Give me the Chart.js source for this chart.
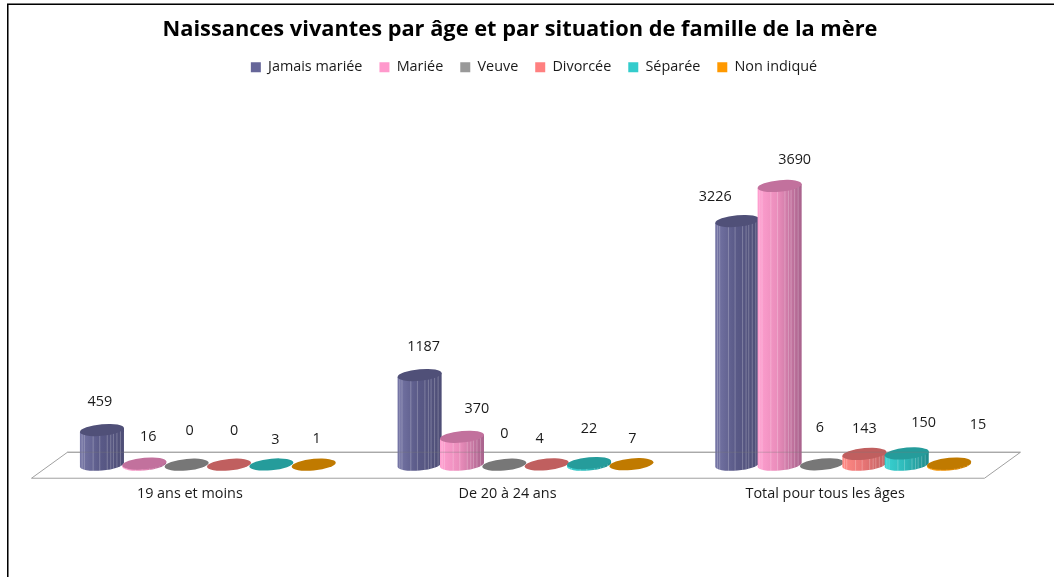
<!DOCTYPE html>
<html><head><meta charset="utf-8">
<style>html,body{margin:0;padding:0;background:#fff}#w{position:relative;width:1054px;height:577px}</style>
<script src="https://cdn.jsdelivr.net/npm/chart.js@4/dist/chart.umd.min.js"></script>
</head><body><div id="w"><canvas id="c" width="1054" height="577"></canvas></div>
<script>
const categories = ["19 ans et moins", "De 20 à 24 ans", "Total pour tous les âges"];
const jamaisMariee = [459, 1187, 3226];
const mariee = [16, 370, 3690];
const veuve = [0, 0, 6];
const divorcee = [0, 4, 143];
const separee = [3, 22, 150];
const nonIndique = [1, 7, 15];
const seriesNames = ["Jamais mariée", "Mariée", "Veuve", "Divorcée", "Séparée", "Non indiqué"];
const chartTitle = "Naissances vivantes par âge et par situation de famille de la mère";

const FONT = '"Open Sans"';
const looks = [
  {fill:"#666699", light:"#7676a6", mid:"#5a5a88", dark:"#4e4e76", top:"#505078"},
  {fill:"#FF99CC", light:"#ff9fd0", mid:"#ea8dbb", dark:"#a8628c", top:"#c2719d"},
  {fill:"#999999", light:"#a0a0a0", mid:"#8c8c8c", dark:"#707070", top:"#777777"},
  {fill:"#FF8080", light:"#ff8a84", mid:"#ea7676", dark:"#bf6060", top:"#c05f5f"},
  {fill:"#33CCCC", light:"#38d2d2", mid:"#2fbaba", dark:"#1f8a8a", top:"#259c9b"},
  {fill:"#FF9900", light:"#ffa010", mid:"#ea8c00", dark:"#c07a00", top:"#c07a00"}
];
// label nudges from the top of each cylinder [dataset][category] = [dx, dy]
const labelNudge = [
  [[-2,-28],[4,-28],[-22,-24]],
  [[4,-27],[15,-28],[15,-26]],
  [[3,-34],[0,-31],[-2,-36]],
  [[5,-34],[-7,-26],[0,-25]],
  [[4,-25],[0,-34],[17,-30]],
  [[3,-26],[1,-25],[29,-39]]
];
const DEPTH_X = 36, DEPTH_Y = -26, TILT = -0.09, RY = 5.8;
const stripes = [.05,.1,.3,.45,.62,.7,.76,.84,.92];

function cylinder(ctx, cx, topY, baseY, w, look){
  const rx = w/2;
  ctx.save();
  ctx.transform(1, TILT, 0, 1, cx, 0);
  const h = baseY - topY;
  if (h > 0.6) {
    ctx.save();
    ctx.beginPath();
    ctx.moveTo(-rx, topY);
    ctx.lineTo(-rx, baseY);
    ctx.ellipse(0, baseY, rx, RY, 0, Math.PI, 0, true);
    ctx.lineTo(rx, topY);
    ctx.closePath();
    const g = ctx.createLinearGradient(-rx,0,rx,0);
    g.addColorStop(0, look.light);
    g.addColorStop(.45, look.mid);
    g.addColorStop(1, look.dark);
    ctx.fillStyle = g; ctx.fill(); ctx.clip();
    ctx.strokeStyle = "rgba(255,255,255,.24)"; ctx.lineWidth = 1;
    stripes.forEach(s=>{ const x=-rx+2*rx*s; ctx.beginPath(); ctx.moveTo(x,topY); ctx.lineTo(x,baseY+RY+1); ctx.stroke(); });
    ctx.restore();
  }
  ctx.beginPath();
  ctx.ellipse(0, topY, rx, RY, 0, 0, Math.PI*2);
  ctx.fillStyle = look.top; ctx.fill();
  ctx.restore();
}

const cylinders = {
  id:"cylinders",
  beforeInit(chart){
    const fit = chart.legend.fit;
    chart.legend.fit = function(){ fit.call(this); this.height += 91; };
  },
  afterLayout(chart){
    chart.titleBlock.left += 12.5; chart.titleBlock.right += 12.5;
    chart.legend.left += 26.5; chart.legend.right += 26.5;
  },
  beforeDraw(chart){
    const c = chart.ctx;
    c.save();
    c.fillStyle="#000"; c.fillRect(7,4,1047,1); c.fillRect(7,4,1,573);
    c.fillStyle="#777"; c.fillRect(7,3,1047,1); c.fillRect(8,5,1,572);
    c.restore();
  },
  beforeDatasetsDraw(chart){
    const c = chart.ctx, a = chart.chartArea;
    c.save();
    c.strokeStyle="#a0a0a0"; c.lineWidth=1;
    c.beginPath();
    c.moveTo(a.left+.5,a.bottom+.5); c.lineTo(a.right+.5,a.bottom+.5);
    c.lineTo(a.right+DEPTH_X+.5,a.bottom+DEPTH_Y+.5); c.lineTo(a.left+DEPTH_X+.5,a.bottom+DEPTH_Y+.5);
    c.closePath(); c.stroke();
    c.restore();
  },
  beforeDatasetDraw(){ return false; },
  afterDatasetsDraw(chart){
    const c = chart.ctx, a = chart.chartArea;
    const dx = DEPTH_X/2, dy = DEPTH_Y/2;
    chart.data.datasets.forEach((ds,i)=>{
      chart.getDatasetMeta(i).data.forEach(el=>{
        cylinder(c, el.x+dx, el.y+dy, el.base+dy, el.width*1.04, looks[i]);
      });
    });
    c.save();
    c.strokeStyle="rgba(120,120,120,.35)"; c.lineWidth=1;
    c.beginPath(); c.moveTo(a.left+DEPTH_X,a.bottom+DEPTH_Y+.5); c.lineTo(a.right+DEPTH_X,a.bottom+DEPTH_Y+.5); c.stroke();
    c.fillStyle="#1a1a1a"; c.font="14.4px "+FONT; c.textAlign="center"; c.textBaseline="middle";
    chart.data.datasets.forEach((ds,i)=>{
      chart.getDatasetMeta(i).data.forEach((el,j)=>{
        const n = labelNudge[i][j];
        c.fillText(String(ds.data[j]), el.x+dx+n[0], el.y+dy+n[1]);
      });
    });
    c.restore();
  }
};

const seriesValues = [jamaisMariee, mariee, veuve, divorcee, separee, nonIndique];
new Chart(document.getElementById("c"), {
  type:"bar",
  data:{
    labels: categories,
    datasets: seriesNames.map((name,i)=>({label:name, data:seriesValues[i], backgroundColor:looks[i].fill}))
  },
  plugins:[cylinders],
  options:{
    responsive:false, animation:false,
    layout:{padding:{left:31,right:70,top:17,bottom:66}},
    categoryPercentage:.8, barPercentage:1,
    scales:{
      x:{grid:{display:false,drawTicks:false},border:{display:false},ticks:{color:"#1a1a1a",font:{family:FONT,size:14.4},padding:8,maxRotation:0}},
      y:{display:false,min:0,max:4000}
    },
    plugins:{
      tooltip:{enabled:false},
      title:{display:true,text:chartTitle,color:"#000",font:{family:FONT,size:21.8,weight:"bold"},padding:{top:0,bottom:0}},
      legend:{position:"top",labels:{color:"#1a1a1a",font:{family:FONT,size:14.4},boxWidth:10,boxHeight:10,padding:17},onClick:null}
    }
  }
});
</script></body></html>
